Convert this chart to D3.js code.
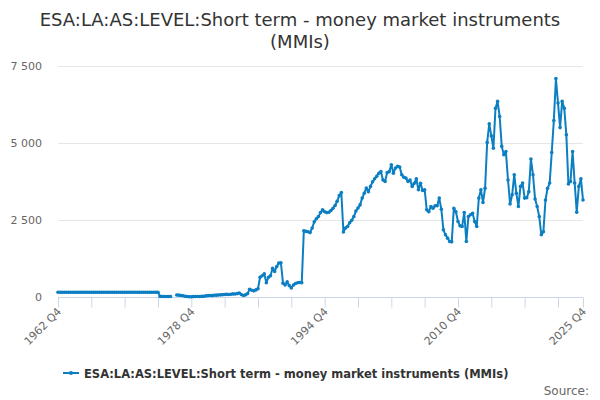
<!DOCTYPE html>
<html>
<head>
<meta charset="utf-8">
<script src="https://cdn.jsdelivr.net/npm/d3@7"></script>
<style>
  html, body { margin: 0; padding: 0; background: #fff; }
  svg { display: block; font-family: "DejaVu Sans", Verdana, sans-serif; }
</style>
</head>
<body>
<svg id="chart" width="600" height="400"></svg>
<script>
// ---- DATA ----
const seriesName = "ESA:LA:AS:LEVEL:Short term - money market instruments (MMIs)";
const titleLines = ["ESA:LA:AS:LEVEL:Short term - money market instruments", "(MMIs)"];
const firstYear = 1962, firstQuarter = 4;
const values = [
  165,165,165,165,165,165,165,165,165,165,
  165,165,165,165,165,165,165,165,165,165,
  165,165,165,165,165,165,165,165,165,165,
  165,165,165,165,165,165,165,165,165,165,
  165,165,165,165,165,165,165,165,165,
  30,28,25,25,25,25,
  null,null,
  75,70,60,50,35,25,20,20,
  22,25,25,28,30,35,45,55,60,55,
  65,70,75,80,85,90,95,90,100,110,
  105,120,140,90,60,80,120,260,230,210,
  240,280,650,700,760,470,650,700,940,840,
  1000,1110,1120,460,400,500,380,300,400,450,
  470,480,470,2160,2140,2130,2100,2250,2450,2550,
  2620,2750,2840,2780,2750,2760,2820,2890,2980,3120,
  3300,3400,2120,2250,2300,2420,2500,2620,2800,2900,
  3000,3220,3380,3550,3430,3600,3750,3850,3930,4030,
  4080,3810,3760,4050,4080,4300,4030,4200,4250,4230,
  3980,3900,3870,3760,3810,3600,3700,3850,3490,3700,
  3470,3490,2840,2780,2950,2890,2970,2970,3220,2860,
  2190,2030,1920,1810,1800,2890,2780,2460,2320,2300,
  2750,1810,2620,2680,2730,2460,2300,3220,3490,3080,
  3540,5030,5630,5240,4840,6140,6360,5870,4900,4630,
  4730,3810,3030,3330,3980,3380,2950,3600,3710,3220,
  3230,3430,4490,3980,3190,2950,2620,2030,2130,3160,
  3540,3710,4700,5740,7100,6310,5510,6360,6140,5280,
  3680,3760,4730,3710,2760,3600,3850,3160
];
const categories = values.map((_, i) => {
  const t = (firstQuarter - 1) + i;
  return (firstYear + Math.floor(t / 4)) + " Q" + (t % 4 + 1);
});
const xTickLabels = ["1962 Q4", "1978 Q4", "1994 Q4", "2010 Q4", "2025 Q4"];
const yTicks = [0, 2500, 5000, 7500];

// ---- LAYOUT ----
const svg = d3.select("#chart");
const plot = { left: 58, right: 583, top: 66.3, bottom: 297.3 };
const color = "#0c7ec2";

const x = d3.scalePoint().domain(categories).range([plot.left, plot.right]);
const y = d3.scaleLinear().domain([0, 7500]).range([plot.bottom, plot.top]);

// title
svg.append("text")
  .attr("x", 300).attr("text-anchor", "middle")
  .attr("font-size", 18).attr("fill", "#333")
  .selectAll("tspan").data(titleLines).join("tspan")
  .attr("x", 300).attr("y", (d, i) => 26 + i * 22).text(d => d);

// gridlines
svg.append("g").selectAll("line").data(yTicks.filter(d => d > 0)).join("line")
  .attr("x1", plot.left).attr("x2", plot.right)
  .attr("y1", d => Math.round(y(d)) + 0.5).attr("y2", d => Math.round(y(d)) + 0.5)
  .attr("stroke", "#e6e6e6").attr("stroke-width", 1);

// y axis
const fmt = v => d3.format(",")(v).replace(/,/g, " ");
const yAxis = d3.axisLeft(y).tickValues(yTicks).tickSize(0).tickPadding(0).tickFormat(fmt);
const yG = svg.append("g").attr("transform", `translate(${plot.left - 16},0)`).call(yAxis);
yG.select(".domain").remove();
yG.selectAll("text").attr("font-size", 11).attr("fill", "#666")
  .attr("font-family", "DejaVu Sans, sans-serif");

// x axis
const tickCats = categories.filter((c, i) => i % 16 === 0 || i === categories.length - 1);
const xAxis = d3.axisBottom(x).tickValues(tickCats).tickSize(10).tickFormat("");
const xG = svg.append("g").attr("transform", `translate(0,${Math.round(plot.bottom) + 0.5})`).call(xAxis);
xG.select(".domain").attr("stroke", "#ccd6eb").attr("d", `M${plot.left},0H${plot.right}`);
xG.selectAll(".tick line").attr("stroke", "#ccd6eb");

svg.append("g").selectAll("text").data(xTickLabels).join("text")
  .attr("transform", d => `translate(${x(d) + 4},${plot.bottom + 15}) rotate(-45)`)
  .attr("text-anchor", "end")
  .attr("font-size", 11).attr("fill", "#666")
  .text(d => d);

// line
const data = categories.map((c, i) => ({ c, v: values[i] }));
const line = d3.line().defined(d => d.v !== null).x(d => x(d.c)).y(d => y(d.v));
svg.append("path").datum(data)
  .attr("fill", "none").attr("stroke", color).attr("stroke-width", 2)
  .attr("stroke-linejoin", "round").attr("stroke-linecap", "round")
  .attr("d", line);
svg.append("g").selectAll("circle").data(data.filter(d => d.v !== null)).join("circle")
  .attr("cx", d => x(d.c)).attr("cy", d => y(d.v)).attr("r", 1.8)
  .attr("fill", color);

// legend
const lg = svg.append("g");
lg.append("line").attr("x1", 63).attr("x2", 79).attr("y1", 373).attr("y2", 373)
  .attr("stroke", color).attr("stroke-width", 2);
lg.append("circle").attr("cx", 71).attr("cy", 373).attr("r", 2).attr("fill", color);
lg.append("text").attr("x", 84).attr("y", 377.5)
  .attr("font-size", 11.5).attr("font-weight", "bold").attr("fill", "#333")
  .text(seriesName);

// source
svg.append("text").attr("x", 589).attr("y", 395).attr("text-anchor", "end")
  .attr("font-size", 12).attr("fill", "#666").text("Source:");
</script>
</body>
</html>
